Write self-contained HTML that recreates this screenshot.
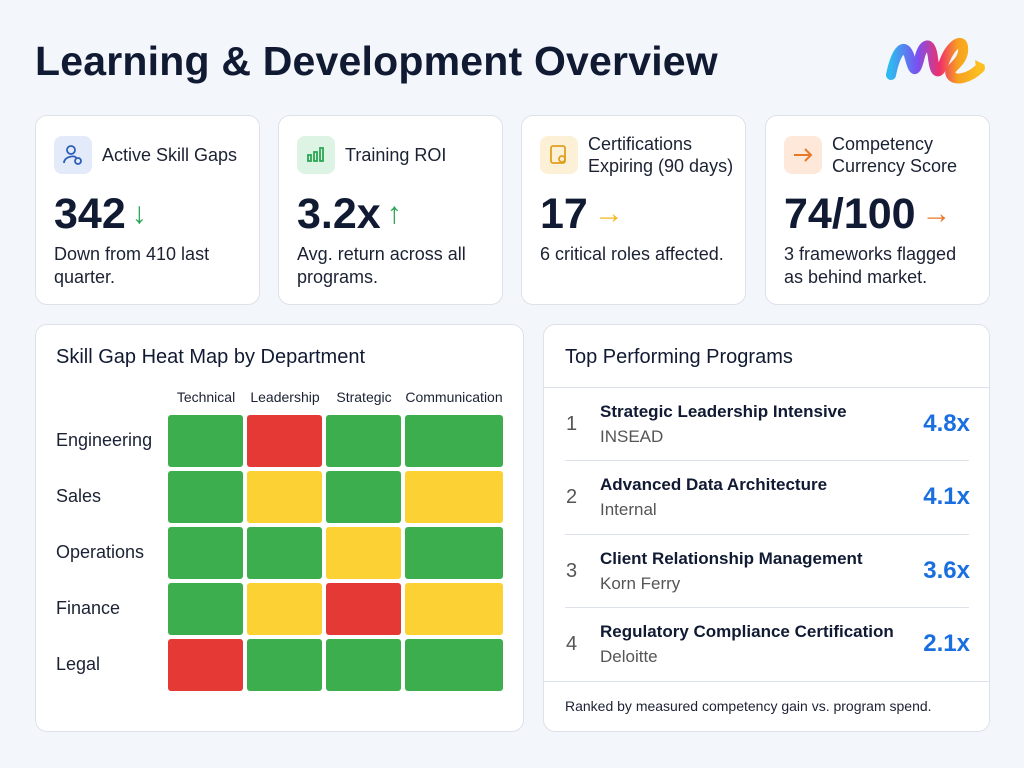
<!DOCTYPE html>
<html><head><meta charset="utf-8"><style>
*{box-sizing:border-box;margin:0;padding:0}
body{width:1024px;height:768px;background:#f3f6fa;font-family:"Liberation Sans",sans-serif;color:#141b2d;position:relative;overflow:hidden}
.abs{position:absolute}
h1{position:absolute;left:35px;top:38px;font-size:41px;font-weight:bold;color:#111a33;letter-spacing:0.2px}
.card{position:absolute;background:#fff;border:1px solid #dde2ea;border-radius:12px}
.kpi{top:115px;width:225px;height:190px}
.ic{position:absolute;left:18px;top:20px;width:38px;height:38px;border-radius:8px}
.lab{position:absolute;left:66px;font-size:18px;color:#1b2233;line-height:22px}
.num{position:absolute;left:18px;top:74px;font-size:43px;font-weight:bold;color:#111a33}
.arr{font-size:30px;font-weight:bold;margin-left:6px;position:relative;top:-5px}
.desc{position:absolute;left:18px;top:127px;font-size:18px;line-height:23px;color:#1b2233;width:190px}
.cell{position:absolute;border-radius:3px}
.g{background:#3cae4e}.r{background:#e53935}.y{background:#fbd133}
.rl{position:absolute;left:20px;font-size:18px;color:#1b2233}
.ch{position:absolute;top:64px;font-size:14px;color:#1b2233;text-align:center}
.prow{position:absolute;left:0;width:446px;height:73px}
.rk{position:absolute;left:22px;top:25px;font-size:20px;color:#555}
.pn{position:absolute;left:56px;top:14px;font-size:17px;font-weight:bold;color:#111a33}
.ps{position:absolute;left:56px;top:39px;font-size:17px;color:#555}
.pv{position:absolute;right:20px;top:22px;font-size:24px;font-weight:bold;color:#1a6fe0}
.div{position:absolute;left:21px;width:404px;height:1px;background:#dde2ea}
</style></head><body>
<h1>Learning &amp; Development Overview</h1>
<svg class="abs" style="left:885px;top:30px" width="105" height="60" viewBox="0 0 105 60">
<defs><linearGradient id="lg" x1="0" x2="1"><stop offset="0" stop-color="#30b8f0"/><stop offset="0.3" stop-color="#7b4ff0"/><stop offset="0.55" stop-color="#f0306a"/><stop offset="0.75" stop-color="#f7a020"/><stop offset="1" stop-color="#fbc020"/></linearGradient></defs>
<path d="M6 45 C10 25 18 10 24 25 C28 40 30 45 34 30 C38 12 46 10 48 28 C50 45 54 46 60 30 C66 14 80 5 78 22 C76 35 62 38 66 45 C70 52 85 48 95 38" fill="none" stroke="url(#lg)" stroke-width="10" stroke-linecap="round"/>
<path d="M90 30 L100 35 L92 44" fill="#fbc020"/>
</svg>

<div class="card kpi" style="left:35px"><div class="ic" style="background:#e3ebfa"><svg width="38" height="38"><circle cx="17" cy="14" r="4" fill="none" stroke="#2d5fb8" stroke-width="1.8"/><path d="M10 27 C10 20 22 19 22 22" fill="none" stroke="#2d5fb8" stroke-width="1.8"/><circle cx="24" cy="25" r="3" fill="none" stroke="#2d5fb8" stroke-width="1.8"/></svg></div><div class="lab" style="top:28px">Active Skill Gaps</div><div class="num">342<span class="arr" style="color:#2aa654">↓</span></div><div class="desc">Down from 410 last quarter.</div></div>
<div class="card kpi" style="left:278px"><div class="ic" style="background:#ddf3e3"><svg width="38" height="38"><g fill="none" stroke="#2aa654" stroke-width="1.8"><rect x="11" y="19" width="3" height="6"/><rect x="17" y="16" width="3" height="9"/><rect x="23" y="12" width="3" height="13"/></g></svg></div><div class="lab" style="top:28px">Training ROI</div><div class="num">3.2x<span class="arr" style="color:#2aa654">↑</span></div><div class="desc">Avg. return across all programs.</div></div>
<div class="card kpi" style="left:521px"><div class="ic" style="background:#fcf1d6"><svg width="38" height="38"><rect x="11" y="10" width="14" height="17" rx="2" fill="none" stroke="#e0a020" stroke-width="1.8"/><circle cx="22" cy="23" r="3" fill="none" stroke="#e0a020" stroke-width="1.8"/></svg></div><div class="lab" style="top:17px">Certifications<br>Expiring (90 days)</div><div class="num">17<span class="arr" style="color:#f2b81d">→</span></div><div class="desc">6 critical roles affected.</div></div>
<div class="card kpi" style="left:765px"><div class="ic" style="background:#fde8da"><svg width="38" height="38"><path d="M10 19 H27 M21 13 L27 19 L21 25" fill="none" stroke="#e8782a" stroke-width="2"/></svg></div><div class="lab" style="top:17px">Competency<br>Currency Score</div><div class="num">74/100<span class="arr" style="color:#e8782a">→</span></div><div class="desc" style="width:180px">3 frameworks flagged as behind market.</div></div>

<div class="card" style="left:35px;top:324px;width:489px;height:408px">
<div class="abs" style="left:20px;top:21px;font-size:20px;color:#111a33">Skill Gap Heat Map by Department</div>
<div class="ch" style="left:132px;width:76px">Technical</div>
<div class="ch" style="left:211px;width:76px">Leadership</div>
<div class="ch" style="left:290px;width:76px">Strategic</div>
<div class="ch" style="left:369px;width:98px">Communication</div>
<div class="rl" style="top:105px">Engineering</div>
<div class="rl" style="top:161px">Sales</div>
<div class="rl" style="top:217px">Operations</div>
<div class="rl" style="top:273px">Finance</div>
<div class="rl" style="top:329px">Legal</div>
<div class="cell g" style="left:132px;top:90px;width:75px;height:52px"></div><div class="cell r" style="left:211px;top:90px;width:75px;height:52px"></div><div class="cell g" style="left:290px;top:90px;width:75px;height:52px"></div><div class="cell g" style="left:369px;top:90px;width:98px;height:52px"></div>
<div class="cell g" style="left:132px;top:146px;width:75px;height:52px"></div><div class="cell y" style="left:211px;top:146px;width:75px;height:52px"></div><div class="cell g" style="left:290px;top:146px;width:75px;height:52px"></div><div class="cell y" style="left:369px;top:146px;width:98px;height:52px"></div>
<div class="cell g" style="left:132px;top:202px;width:75px;height:52px"></div><div class="cell g" style="left:211px;top:202px;width:75px;height:52px"></div><div class="cell y" style="left:290px;top:202px;width:75px;height:52px"></div><div class="cell g" style="left:369px;top:202px;width:98px;height:52px"></div>
<div class="cell g" style="left:132px;top:258px;width:75px;height:52px"></div><div class="cell y" style="left:211px;top:258px;width:75px;height:52px"></div><div class="cell r" style="left:290px;top:258px;width:75px;height:52px"></div><div class="cell y" style="left:369px;top:258px;width:98px;height:52px"></div>
<div class="cell r" style="left:132px;top:314px;width:75px;height:52px"></div><div class="cell g" style="left:211px;top:314px;width:75px;height:52px"></div><div class="cell g" style="left:290px;top:314px;width:75px;height:52px"></div><div class="cell g" style="left:369px;top:314px;width:98px;height:52px"></div>
</div>

<div class="card" style="left:543px;top:324px;width:447px;height:408px">
<div class="abs" style="left:21px;top:21px;font-size:20px;color:#111a33">Top Performing Programs</div>
<div class="abs" style="left:0;top:62px;width:445px;height:1px;background:#dde2ea"></div>
<div class="prow" style="top:63px"><div class="rk">1</div><div class="pn">Strategic Leadership Intensive</div><div class="ps">INSEAD</div><div class="pv">4.8x</div></div>
<div class="div" style="top:135px"></div>
<div class="prow" style="top:136px"><div class="rk">2</div><div class="pn">Advanced Data Architecture</div><div class="ps">Internal</div><div class="pv">4.1x</div></div>
<div class="div" style="top:209px"></div>
<div class="prow" style="top:210px"><div class="rk">3</div><div class="pn">Client Relationship Management</div><div class="ps">Korn Ferry</div><div class="pv">3.6x</div></div>
<div class="div" style="top:282px"></div>
<div class="prow" style="top:283px"><div class="rk">4</div><div class="pn">Regulatory Compliance Certification</div><div class="ps">Deloitte</div><div class="pv">2.1x</div></div>
<div class="abs" style="left:0;top:356px;width:445px;height:1px;background:#dde2ea"></div>
<div class="abs" style="left:21px;top:373px;font-size:14px;color:#1b2233">Ranked by measured competency gain vs. program spend.</div>
</div>
</body></html>
